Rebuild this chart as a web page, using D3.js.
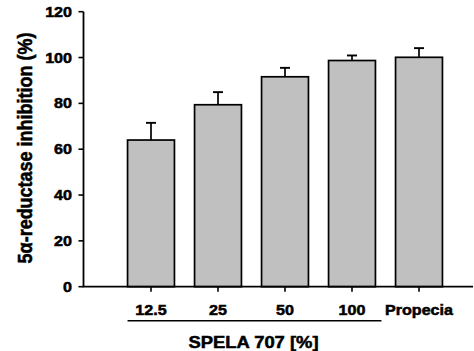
<!DOCTYPE html>
<html>
<head>
<meta charset="utf-8">
<script src="https://cdn.jsdelivr.net/npm/d3@7"></script>
<style>
  body { margin: 0; background: #fff; }
  text { font-family: "Liberation Sans", Arial, sans-serif; font-weight: bold; fill: #000; stroke: #000; stroke-width: 0.5px; }
</style>
</head>
<body>
<div id="chart"></div>
<script>
// values
const categories = ['12.5', '25', '50', '100', 'Propecia'];
const means = [64.0, 79.4, 91.6, 98.7, 100.1];
const errors = [7.5, 5.5, 3.9, 2.2, 4.0];
const yTicks = [0, 20, 40, 60, 80, 100, 120];
const groupedCats = ['12.5', '25', '50', '100'];

const W = 474, H = 351;
const stretch = 1.15; // glyphs in the original look horizontally widened

const svg = d3.select('#chart').append('svg')
    .attr('width', W)
    .attr('height', H);

const y = d3.scaleLinear().domain([0, 120]).range([286.7, 11.7]);
const x = d3.scaleBand().domain(categories).range([117.5, 452.5])
    .paddingInner(0.3).paddingOuter(0.15);

const axisX = 83.5;
const baseY = y(0);

// bars
svg.selectAll('rect.bar')
    .data(categories)
    .enter().append('rect')
    .attr('class', 'bar')
    .attr('x', d => x(d))
    .attr('y', (d, i) => y(means[i]))
    .attr('width', x.bandwidth())
    .attr('height', (d, i) => baseY - y(means[i]))
    .attr('fill', '#c0c0c0')
    .attr('stroke', '#000')
    .attr('stroke-width', 1.7);

// error bars (upper only)
const err = svg.selectAll('g.err')
    .data(categories)
    .enter().append('g')
    .attr('class', 'err');
err.append('line')
    .attr('x1', d => x(d) + x.bandwidth() / 2)
    .attr('x2', d => x(d) + x.bandwidth() / 2)
    .attr('y1', (d, i) => y(means[i]))
    .attr('y2', (d, i) => y(means[i] + errors[i]))
    .attr('stroke', '#000')
    .attr('stroke-width', 1.7);
err.append('line')
    .attr('x1', d => x(d) + x.bandwidth() / 2 - 5)
    .attr('x2', d => x(d) + x.bandwidth() / 2 + 5)
    .attr('y1', (d, i) => y(means[i] + errors[i]))
    .attr('y2', (d, i) => y(means[i] + errors[i]))
    .attr('stroke', '#000')
    .attr('stroke-width', 1.9);

// y axis
svg.append('line')
    .attr('x1', axisX).attr('x2', axisX)
    .attr('y1', y(120)).attr('y2', baseY)
    .attr('stroke', '#000').attr('stroke-width', 1.8);
svg.selectAll('line.ytick')
    .data(yTicks)
    .enter().append('line')
    .attr('class', 'ytick')
    .attr('x1', axisX - 5).attr('x2', axisX)
    .attr('y1', d => y(d)).attr('y2', d => y(d))
    .attr('stroke', '#000').attr('stroke-width', 1.6);
svg.selectAll('text.ylab')
    .data(yTicks)
    .enter().append('text')
    .attr('class', 'ylab')
    .attr('transform', d => 'translate(72,' + (y(d) + 5) + ') scale(' + stretch + ',1)')
    .attr('text-anchor', 'end')
    .style('font-size', '14px')
    .text(d => d);

// x axis
svg.append('line')
    .attr('x1', axisX - 0.9).attr('x2', 473)
    .attr('y1', baseY).attr('y2', baseY)
    .attr('stroke', '#000').attr('stroke-width', 1.8);
svg.selectAll('line.xtick')
    .data(categories)
    .enter().append('line')
    .attr('class', 'xtick')
    .attr('x1', d => x(d) + x.bandwidth() / 2)
    .attr('x2', d => x(d) + x.bandwidth() / 2)
    .attr('y1', baseY).attr('y2', baseY + 5)
    .attr('stroke', '#000').attr('stroke-width', 1.6);
svg.selectAll('text.xlab')
    .data(categories)
    .enter().append('text')
    .attr('class', 'xlab')
    .attr('transform', d => 'translate(' + (x(d) + x.bandwidth() / 2) + ',315) scale(' + stretch + ',1)')
    .attr('text-anchor', 'middle')
    .style('font-size', '14px')
    .text(d => d);

// bracket line under the SPELA doses
const gx0 = x(groupedCats[0]);
const gx1 = x(groupedCats[groupedCats.length - 1]) + x.bandwidth() + 6;
svg.append('line')
    .attr('x1', gx0).attr('x2', gx1)
    .attr('y1', 320.7).attr('y2', 320.7)
    .attr('stroke', '#000').attr('stroke-width', 1.5);
svg.append('text')
    .attr('transform', 'translate(' + ((gx0 + gx1) / 2 - 1) + ',348) scale(' + stretch + ',1)')
    .attr('text-anchor', 'middle')
    .style('font-size', '16px')
    .text('SPELA 707 [%]');

// y title
svg.append('text')
    .attr('transform', 'translate(32,148) scale(' + stretch + ',1) rotate(-90)')
    .attr('text-anchor', 'middle')
    .style('font-size', '18px')
    .text('5α-reductase inhibition (%)');
</script>
</body>
</html>
